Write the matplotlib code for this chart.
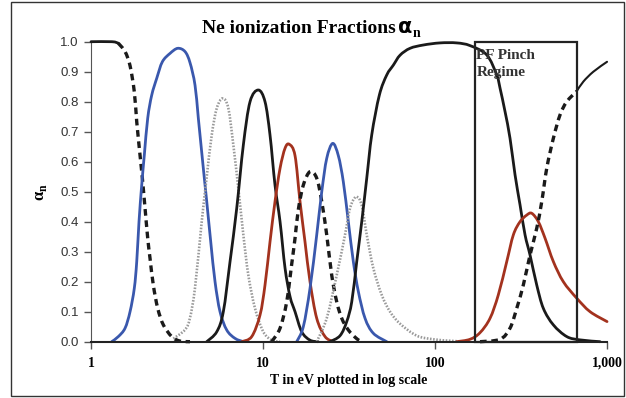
import numpy as np
import matplotlib.pyplot as plt
from matplotlib.patches import Rectangle, PathPatch
from matplotlib.path import Path

plt.rcParams['mathtext.fontset'] = 'custom'
plt.rcParams['mathtext.rm'] = 'Liberation Serif'
plt.rcParams['mathtext.bf'] = 'Liberation Serif:bold'

# electron temperature (eV) and ionic fraction for each Ne charge state
t_ne0 = [1.0, 1.325, 1.441, 1.577, 1.686, 1.785, 1.844, 1.927, 1.988, 2.061, 2.136,
         2.203, 2.302, 2.443, 2.633, 2.946, 3.291, 3.763]
a_ne0 = [1.0, 1.0, 0.995, 0.967, 0.92, 0.833, 0.733, 0.622, 0.545, 0.445, 0.345,
         0.278, 0.189, 0.111, 0.056, 0.017, 0.002, 0.0]

t_ne1 = [1.319, 1.441, 1.577, 1.686, 1.785, 1.844, 1.901, 1.971, 2.041, 2.136, 2.254,
         2.410, 2.598, 2.879, 3.192, 3.521, 3.763, 4.024, 4.206, 4.497, 4.707, 4.966,
         5.260, 5.623, 6.151, 6.875, 7.685]
a_ne1 = [0.0, 0.017, 0.045, 0.10, 0.178, 0.267, 0.40, 0.522, 0.622, 0.745, 0.822,
         0.878, 0.933, 0.961, 0.978, 0.967, 0.93, 0.855, 0.745, 0.578, 0.467, 0.333,
         0.20, 0.10, 0.039, 0.011, 0.0]

t_ne2 = [3.010, 3.521, 3.763, 4.024, 4.401, 4.707, 5.033, 5.382, 5.832, 6.285, 6.720,
         7.186, 7.685, 8.215, 8.985, 10.04, 11.23, 12.56]
a_ne2 = [0.01, 0.04, 0.08, 0.18, 0.40, 0.55, 0.689, 0.778, 0.811, 0.778, 0.656,
         0.511, 0.356, 0.222, 0.111, 0.033, 0.005, 0.0]

t_ne3 = [4.707, 5.382, 5.878, 6.430, 7.033, 7.685, 8.404, 9.391, 10.27, 10.98, 11.74,
         12.56, 13.43, 14.36, 15.35, 16.79, 18.76, 20.89]
a_ne3 = [0.0, 0.033, 0.10, 0.267, 0.445, 0.656, 0.80, 0.839, 0.80, 0.689, 0.522,
         0.40, 0.245, 0.15, 0.10, 0.033, 0.005, 0.0]

t_ne4 = [7.521, 8.598, 9.607, 10.27, 10.98, 11.74, 12.56, 13.43, 14.22, 15.35, 16.41,
         17.54, 18.76, 20.52, 22.94, 25.63]
a_ne4 = [0.0, 0.017, 0.089, 0.189, 0.333, 0.467, 0.578, 0.645, 0.658, 0.62, 0.467,
         0.333, 0.20, 0.078, 0.017, 0.0]

t_ne5 = [11.23, 12.56, 13.73, 14.69, 15.35, 16.04, 17.15, 18.76, 20.52, 21.95, 23.46,
         25.08, 26.82, 28.68, 31.33, 35.06, 37.49]
a_ne5 = [0.0, 0.045, 0.133, 0.26, 0.345, 0.44, 0.522, 0.567, 0.545, 0.467, 0.356,
         0.222, 0.133, 0.078, 0.039, 0.01, 0.0]

t_ne6 = [15.70, 17.15, 18.76, 20.52, 21.95, 23.46, 25.42, 27.41, 29.30, 31.33, 33.50,
         35.83, 39.18, 43.78, 52.39]
a_ne6 = [0.0, 0.05, 0.178, 0.356, 0.50, 0.611, 0.661, 0.62, 0.533, 0.40, 0.267,
         0.167, 0.078, 0.028, 0.0]

t_ne7 = [20.52, 23.46, 26.82, 29.97, 32.05, 34.74, 37.49, 40.09, 43.78, 48.98, 54.75,
         62.59, 78.27, 97.75, 122.3, 149.4]
a_ne7 = [0.0, 0.078, 0.222, 0.356, 0.445, 0.483, 0.455, 0.356, 0.245, 0.156, 0.10,
         0.06, 0.02, 0.008, 0.003, 0.0]

t_ne8 = [24.52, 28.04, 30.67, 32.80, 35.06, 37.49, 40.09, 42.85, 47.46, 52.39, 57.24,
         62.59, 71.56, 85.51, 106.9, 133.7, 159.8, 199.8, 228.5, 238.8, 255.3, 272.9,
         291.9, 312.1, 333.7, 356.7, 390.2, 426.4, 487.5, 583.2, 696.6, 910.8]
a_ne8 = [0.0, 0.02, 0.067, 0.133, 0.267, 0.40, 0.545, 0.689, 0.822, 0.889, 0.922,
         0.955, 0.978, 0.989, 0.996, 0.996, 0.987, 0.956, 0.889, 0.845, 0.767, 0.678,
         0.556, 0.456, 0.356, 0.289, 0.189, 0.111, 0.056, 0.017, 0.006, 0.0]

t_ne9 = [133.7, 159.8, 182.6, 208.8, 233.3, 261.2, 285.3, 312.1, 341.3, 365.0, 398.7,
         436.1, 487.5, 557.0, 666.5, 796.6, 1000.0]
a_ne9 = [0.0, 0.008, 0.03, 0.078, 0.156, 0.267, 0.356, 0.40, 0.422, 0.428, 0.40,
         0.345, 0.267, 0.20, 0.145, 0.10, 0.067]

t_ne10 = [182.6, 238.8, 272.9, 298.5, 326.1, 356.7, 390.2, 417.3, 446.1, 487.5, 533.0,
          583.2, 666.5, 728.3, 832.6, 1000.0]
a_ne10 = [0.0, 0.008, 0.045, 0.111, 0.189, 0.289, 0.378, 0.467, 0.578, 0.678, 0.756,
          0.80, 0.835, 0.867, 0.90, 0.933]

pinch_range = (170.0, 666.5)
x_ticks = [1, 10, 100, 1000]
x_ticklabels = ['1', '10', '100', '1,000']
y_ticks = np.arange(0, 11) / 10

BLUE = '#3a58ad'
RED = '#a3321e'
GRAY = '#9a9a9a'
BLACK = '#1a1a1a'

solid = dict(lw=2.0, capstyle='round', joinstyle='round')
dashed = dict(lw=2.4, linestyle=(0, (2.0, 1.4)), capstyle='butt')
dotted = dict(lw=1.9, linestyle=(0, (0.6, 0.6)))

fig = plt.figure(figsize=(6.26, 3.98), dpi=100)
ax = fig.add_axes([0.1454, 0.1415, 0.8243, 0.7537])


def smoothed(t, a):
    # Excel-style smoothed line: cubic Bezier through every point, built in log10(T)
    x = np.log10(np.asarray(t, dtype=float))
    y = np.asarray(a, dtype=float)
    n = len(x)
    verts = [(x[0], y[0])]
    codes = [Path.MOVETO]
    for i in range(n - 1):
        xp, yp = (x[i - 1], y[i - 1]) if i > 0 else (x[i], y[i])
        xn, yn = (x[i + 2], y[i + 2]) if i + 2 < n else (x[i + 1], y[i + 1])
        verts.append((x[i] + (x[i + 1] - xp) / 6, y[i] + (y[i + 1] - yp) / 6))
        verts.append((x[i + 1] - (xn - x[i]) / 6, y[i + 1] - (yn - y[i]) / 6))
        verts.append((x[i + 1], y[i + 1]))
        codes += [Path.CURVE4] * 3
    verts = np.array(verts)
    verts[:, 0] = 10 ** verts[:, 0]
    return Path(verts, codes)


def curve(t, a, color, style):
    ax.add_patch(PathPatch(smoothed(t, a), fill=False, ec=color, clip_on=False,
                           zorder=3, **style))


def split_curve(t, a, t_cut, color, first, second):
    # one charge state drawn with two line styles either side of t_cut
    t = np.asarray(t)
    a = np.asarray(a)
    curve(t[t <= t_cut], a[t <= t_cut], color, first)
    curve(t[t >= t_cut], a[t >= t_cut], color, second)


split_curve(t_ne0, a_ne0, 1.441, BLACK, solid, dashed)
curve(t_ne1, a_ne1, BLUE, solid)
curve(t_ne2, a_ne2, GRAY, dotted)
curve(t_ne3, a_ne3, BLACK, solid)
curve(t_ne4, a_ne4, RED, solid)
curve(t_ne5, a_ne5, BLACK, dashed)
curve(t_ne6, a_ne6, BLUE, solid)
curve(t_ne7, a_ne7, GRAY, dotted)
curve(t_ne8, a_ne8, BLACK, solid)
curve(t_ne9, a_ne9, RED, solid)
split_curve(t_ne10, a_ne10, pinch_range[1], BLACK, dashed, dict(solid, lw=1.5))

# plasma focus pinch window
ax.add_patch(Rectangle((pinch_range[0], 0), pinch_range[1] - pinch_range[0], 1.0,
                       fill=False, ec='#222222', lw=1.6, zorder=5, clip_on=False))
ax.text(174, 0.975, 'PF Pinch\nRegime', ha='left', va='top', fontsize=11,
        fontweight='bold', family='Liberation Serif', color='#333333',
        linespacing=1.4, zorder=4)

ax.set_xscale('log')
ax.set_xlim(1, 1000)
ax.set_ylim(0, 1.0)
ax.set_xticks(x_ticks)
ax.set_xticklabels(x_ticklabels, fontsize=10, fontweight='bold',
                   family='Liberation Serif')
ax.xaxis.set_minor_locator(plt.NullLocator())
ax.set_yticks(y_ticks)
ax.set_yticklabels([f'{v:.1f}' for v in y_ticks], fontsize=9.5,
                   family='Liberation Sans', color='#333333')
ax.tick_params(axis='x', length=5, width=1, color='#555555', pad=6)
ax.tick_params(axis='y', length=5, width=1, color='#555555', pad=4)

for side in ('top', 'right'):
    ax.spines[side].set_visible(False)
ax.spines['left'].set_color('#555555')
ax.spines['bottom'].set_color('#222222')
ax.spines['bottom'].set_linewidth(1.5)
ax.spines['bottom'].set_zorder(6)

ax.set_xlabel('T in eV plotted in log scale', fontsize=10, fontweight='bold',
              family='Liberation Serif', labelpad=3)
ax.set_ylabel('α$_\\mathbf{n}$', fontsize=12, fontweight='bold',
              family='Liberation Serif', labelpad=8)

# title, with a wide alpha as in the Symbol font
fig.text(202 / 626, 1 - 33 / 398, 'Ne ionization Fractions', ha='left',
         va='baseline', fontsize=14, fontweight='bold', family='Liberation Serif')
fig.text(398 / 626, 1 - 33 / 398, 'α', ha='left', va='baseline', fontsize=15,
         fontweight='bold', family='DejaVu Sans')
fig.text(413 / 626, 1 - 37 / 398, 'n', ha='left', va='baseline', fontsize=10,
         fontweight='bold', family='Liberation Serif')

# chart area border
fig.add_artist(Rectangle((0.0168, 0.0038), 0.98, 0.9924, transform=fig.transFigure,
                         fill=False, ec='#333333', lw=1.0))

fig.savefig('out.png', dpi=100)
